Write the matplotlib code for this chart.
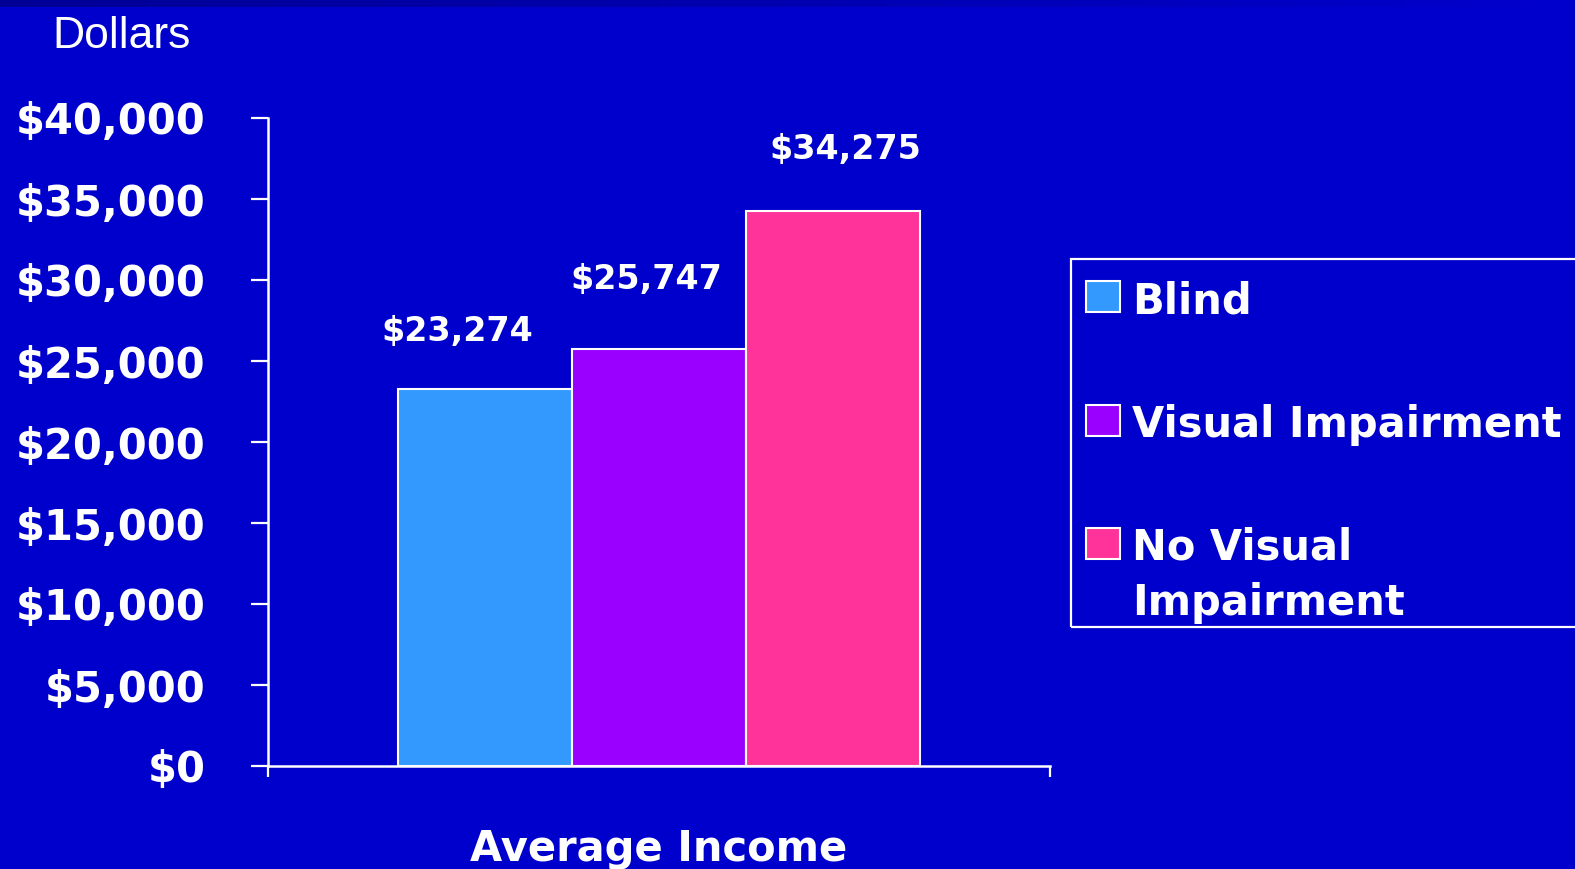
import numpy as np
import matplotlib
matplotlib.use("Agg")
import matplotlib.pyplot as plt
from matplotlib.patches import Rectangle
from matplotlib.colors import LinearSegmentedColormap

# Data
groups = ["Blind", "Visual Impairment", "No Visual\nImpairment"]
incomes = [23274, 25747, 34275]
bar_colors = ["#3399FF", "#9900FF", "#FF3399"]
y_ticks = [0, 5000, 10000, 15000, 20000, 25000, 30000, 35000, 40000]
category_label = "Average Income"
unit_label = "Dollars"

BG = "#0000CC"
W, H = 1575, 869

fig = plt.figure(figsize=(W / 100, H / 100), dpi=100, facecolor=BG)

# thin shaded band along the top edge
band = fig.add_axes([0, 1 - 7 / H, 1, 7 / H])
cmap = LinearSegmentedColormap.from_list("band", ["#000095", BG])
band.imshow(np.linspace(0, 1, 256)[None, :], aspect="auto", cmap=cmap)
band.set_axis_off()

ax = fig.add_axes([268 / W, 1 - 766 / H, (1050 - 268) / W, (766 - 118) / H])
ax.set_facecolor(BG)

x = np.arange(len(incomes))
ax.bar(x, incomes, width=1.0, color=bar_colors, edgecolor="white", linewidth=1.5, zorder=3)

ax.set_xlim(-1.25, 3.25)
ax.set_ylim(0, 40000)

for s in ["top", "right"]:
    ax.spines[s].set_visible(False)
for s in ["left", "bottom"]:
    ax.spines[s].set_color("white")
    ax.spines[s].set_linewidth(1.8)

ax.set_yticks(y_ticks)
ax.set_yticklabels([r"\$" + f"{v:,}" for v in y_ticks])
ax.tick_params(axis="y", colors="white", direction="out", length=12, width=1.6, pad=33)
for lbl in ax.get_yticklabels():
    lbl.set_fontsize(30)
    lbl.set_fontweight("bold")
    lbl.set_family("DejaVu Sans")

ax.set_xticks([-1.25, 3.25])
ax.set_xticklabels(["", ""])
ax.tick_params(axis="x", colors="white", direction="out", length=8, width=1.6)

# value labels above the bars (offsets in pixels)
label_offsets = [(-28, 57), (-13, 69), (13, 61)]
for xi, v, (dx, dy) in zip(x, incomes, label_offsets):
    ax.annotate(r"\$" + f"{v:,}", xy=(xi, v), xytext=(dx, dy),
                textcoords="offset pixels", ha="center", va="center",
                color="white", fontsize=24, fontweight="bold", family="DejaVu Sans")

# category label under the axis
ax.text(0.5, -(861 - 766) / (766 - 118), category_label, transform=ax.transAxes,
        ha="center", va="baseline", color="white", fontsize=30, fontweight="bold",
        family="DejaVu Sans")

# unit label at top left
fig.text(52 / W, 1 - 48 / H, unit_label, ha="left", va="baseline", color="white",
         fontsize=32, family="Liberation Sans")

# legend panel
fig.patches.append(Rectangle((1071 / W, 1 - 627 / H), (1700 - 1071) / W, (627 - 259) / H,
                             transform=fig.transFigure, facecolor="none",
                             edgecolor="white", linewidth=1.6, clip_on=False))
row_baselines = [313, 437, 560]
for name, col, base in zip(groups, bar_colors, row_baselines):
    top = base - 32
    fig.patches.append(Rectangle((1086 / W, 1 - (top + 31) / H), 34 / W, 31 / H,
                                 transform=fig.transFigure, facecolor=col,
                                 edgecolor="white", linewidth=1.5))
    for j, line in enumerate(name.split("\n")):
        fig.text(1132 / W, 1 - (base + 55 * j) / H, line, ha="left", va="baseline",
                 color="white", fontsize=30, fontweight="bold", family="DejaVu Sans")

fig.savefig("out.png", dpi=100, facecolor=BG)
